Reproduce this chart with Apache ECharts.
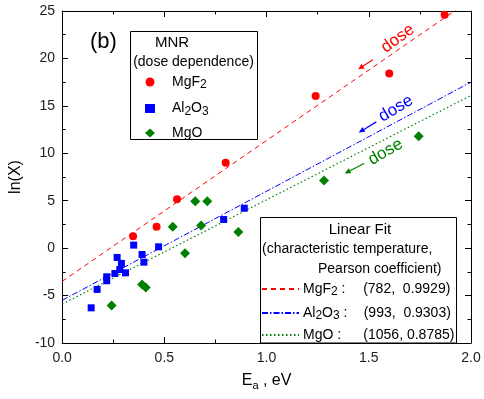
<!DOCTYPE html>
<html><head><meta charset="utf-8">
<script src="https://cdn.jsdelivr.net/npm/echarts@6/dist/echarts.min.js"></script>
<style>html,body{margin:0;padding:0;background:#fff}#c{width:484px;height:399px}</style>
</head><body><div id="c"></div>
<script>
// ---- data ----
var mgf2Points = [[0.347,1.26],[0.462,2.25],[0.562,5.16],[0.800,9.0],[1.240,16.05],[1.600,18.4],[1.871,24.6]];
var al2o3Points = [[0.142,-6.29],[0.171,-4.35],[0.218,-3.02],[0.218,-3.44],[0.258,-2.67],[0.269,-0.98],[0.290,-1.61],[0.282,-2.25],[0.310,-2.6],[0.350,0.32],[0.391,-0.67],[0.400,-1.48],[0.472,0.14],[0.790,3.02],[0.891,4.21]];
var mgoPoints = [[0.242,-6.04],[0.391,-3.83],[0.409,-4.14],[0.541,2.25],[0.601,-0.53],[0.651,4.95],[0.710,4.95],[0.680,2.39],[0.862,1.69],[1.281,7.13],[1.744,11.8]];
var mgf2Fit = [[0,-3.5],[2,26.2]];
var al2o3Fit = [[0,-5.5],[2,17.5]];
var mgoFit = [[0,-5.9],[2,16.1]];
var fitParams = ['(782,  0.9929)','(993,  0.9303)','(1056, 0.8785)'];
var xTicks = {min:0, max:2, interval:0.5};
var yTicks = {min:-10, max:25, interval:5};
// annotation anchors (data coords): [text center, arrow start, arrow end]
var doseNotes = [
  {color:'#ff0000', text:[1.642,22.1], a0:[1.520,19.87], a1:[1.448,18.85], rot:36},
  {color:'#0000ff', text:[1.633,14.72], a0:[1.537,13.31], a1:[1.451,12.19], rot:31},
  {color:'#008000', text:[1.582,10.15], a0:[1.477,8.92], a1:[1.382,7.87], rot:30}
];

var FONT = "'Liberation Sans', Arial, sans-serif";
var RED='#ff0000', BLUE='#0000ff', GREEN='#008000';
var chart = echarts.init(document.getElementById('c'), null, {renderer:'canvas'});

var rich = {
  n:{fontSize:14, fontFamily:FONT, color:'#000', lineHeight:18, verticalAlign:'middle'},
  s:{fontSize:12, fontFamily:FONT, color:'#000', lineHeight:18, verticalAlign:'bottom', padding:[6,0,0,0]},
  w1:{fontSize:14, fontFamily:FONT, color:'#000', lineHeight:18, width:25.5},
  w2:{fontSize:14, fontFamily:FONT, color:'#000', lineHeight:18, width:24},
  w3:{fontSize:14, fontFamily:FONT, color:'#000', lineHeight:18, width:30}
};
var nameRich = {
  'MgF2':'{n|MgF}{s|2}', 'Al2O3':'{n|Al}{s|2}{n|O}{s|3}', 'MgO':'{n|MgO}',
  'MgF2 fit':'{n|MgF}{s|2}{w1| :}{n|'+fitParams[0]+'}',
  'Al2O3 fit':'{n|Al}{s|2}{n|O}{s|3}{w2| :}{n|'+fitParams[1]+'}',
  'MgO fit':'{n|MgO}{w3| :}{n|'+fitParams[2]+'}'
};

function axisCommon(show){
  return {
    axisLine:{show:true, onZero:false, lineStyle:{color:'#000', width:1}},
    axisTick:{show:true, inside:true, length:6, lineStyle:{color:'#000'}},
    minorTick:{show:true, splitNumber:2, length:3.5, lineStyle:{color:'#000'}},
    splitLine:{show:false},
    axisLabel:{show:show, color:'#222', fontSize:14, fontFamily:FONT}
  };
}

var option = {
  animation:false,
  grid:{left:59, right:13, top:11, bottom:56},
  xAxis:[
    Object.assign({type:'value', min:xTicks.min, max:xTicks.max, interval:xTicks.interval, position:'bottom',
      name:'{e|E}{sa|a}{e| , eV}', nameLocation:'middle', nameGap:28,
      nameTextStyle:{rich:{e:{fontSize:16, fontFamily:FONT, color:'#000', lineHeight:20}, sa:{fontSize:11, fontFamily:FONT, color:'#000', lineHeight:20, verticalAlign:'bottom', padding:[8,0,0,0]}}}
    }, axisCommon(true), {axisLabel:{show:true, color:'#222', fontSize:14, fontFamily:FONT, margin:8, formatter:function(v){return v.toFixed(1);}}}),
    Object.assign({type:'value', min:xTicks.min, max:xTicks.max, interval:xTicks.interval, position:'top'}, axisCommon(false))
  ],
  yAxis:[
    Object.assign({type:'value', min:yTicks.min, max:yTicks.max, interval:yTicks.interval, position:'left',
      name:'ln(X)', nameLocation:'middle', nameGap:32, nameRotate:90,
      nameTextStyle:{fontSize:16, fontFamily:FONT, color:'#000'}
    }, axisCommon(true), {axisLabel:{show:true, color:'#222', fontSize:14, fontFamily:FONT, margin:7}}),
    Object.assign({type:'value', min:yTicks.min, max:yTicks.max, interval:yTicks.interval, position:'right'}, axisCommon(false))
  ],
  legend:[
    {orient:'vertical', left:145, top:73, padding:0, itemWidth:10, itemHeight:9, itemGap:8.5, z:8,
     data:[{name:'MgF2', icon:'circle'},{name:'Al2O3', icon:'rect'},{name:'MgO', icon:'diamond'}],
     formatter:function(n){return nameRich[n];},
     textStyle:{rich:rich, padding:[0,0,0,12]}},
    {orient:'vertical', left:261, top:280, padding:0, itemWidth:37, itemHeight:10, itemGap:6, z:8,
     data:['MgF2 fit','Al2O3 fit','MgO fit'],
     itemStyle:{color:'transparent', borderWidth:0, opacity:0},
     formatter:function(n){return nameRich[n];},
     textStyle:{rich:rich, padding:[0,0,0,-1]}}
  ],
  series:[
    {name:'MgF2 fit', type:'line', data:mgf2Fit, symbol:'none', silent:true, z:1,
     lineStyle:{color:RED, width:1, type:[5,4]}, itemStyle:{color:RED}},
    {name:'Al2O3 fit', type:'line', data:al2o3Fit, symbol:'none', silent:true, z:1,
     lineStyle:{color:BLUE, width:1, type:[6,2,1.5,2]}, itemStyle:{color:BLUE}},
    {name:'MgO fit', type:'line', data:mgoFit, symbol:'none', silent:true, z:1,
     lineStyle:{color:GREEN, width:1.2, type:[1.5,2.5]}, itemStyle:{color:GREEN}},
    {name:'MgF2', type:'scatter', data:mgf2Points, symbol:'circle', symbolSize:8, itemStyle:{color:RED, opacity:1}, z:3},
    {name:'Al2O3', type:'scatter', data:al2o3Points, symbol:'rect', symbolSize:7, itemStyle:{color:BLUE, opacity:1}, z:3},
    {name:'MgO', type:'scatter', data:mgoPoints, symbol:'diamond', symbolSize:10, itemStyle:{color:GREEN, opacity:1}, z:3}
  ]
};
chart.setOption(option);

function buildGraphics(){
  var g = [];
  g.push({type:'rect', shape:{x:130.5, y:31.5, width:127, height:108}, style:{fill:'#fff', stroke:'#000', lineWidth:1}, z:5, silent:true});
  g.push({type:'rect', shape:{x:260.5, y:217.5, width:196, height:125.5}, style:{fill:'#fff', stroke:'#000', lineWidth:1}, z:5, silent:true});
  g.push({type:'text', x:172, y:43, style:{text:'MNR', font:'15px '+FONT, fill:'#000', align:'center', verticalAlign:'middle'}, z:6});
  g.push({type:'text', x:193.5, y:62.5, style:{text:'(dose dependence)', font:'14px '+FONT, fill:'#000', align:'center', verticalAlign:'middle'}, z:6});
  g.push({type:'text', x:360, y:229.5, style:{text:'Linear Fit', font:'15px '+FONT, fill:'#000', align:'center', verticalAlign:'middle'}, z:6});
  g.push({type:'text', x:262, y:249.5, style:{text:'(characteristic temperature,', font:'14px '+FONT, fill:'#000', align:'left', verticalAlign:'middle'}, z:6});
  g.push({type:'text', x:318, y:269, style:{text:'Pearson coefficient)', font:'14px '+FONT, fill:'#000', align:'left', verticalAlign:'middle'}, z:6});
  g.push({type:'text', x:90, y:42, style:{text:'(b)', font:'22px '+FONT, fill:'#000', align:'left', verticalAlign:'middle'}, z:6});
  doseNotes.forEach(function(d){
    var t = chart.convertToPixel({xAxisIndex:0, yAxisIndex:0}, d.text);
    var p0 = chart.convertToPixel({xAxisIndex:0, yAxisIndex:0}, d.a0);
    var p1 = chart.convertToPixel({xAxisIndex:0, yAxisIndex:0}, d.a1);
    g.push({type:'text', x:t[0], y:t[1], rotation:d.rot*Math.PI/180,
      style:{text:'dose', font:'17px '+FONT, fill:d.color, align:'center', verticalAlign:'middle'}, z:6});
    var dx=p1[0]-p0[0], dy=p1[1]-p0[1], L=Math.sqrt(dx*dx+dy*dy), ux=dx/L, uy=dy/L;
    var hl=6, hw=2.8;
    var bx=p1[0]-ux*hl, by=p1[1]-uy*hl;
    g.push({type:'line', shape:{x1:p0[0], y1:p0[1], x2:bx, y2:by}, style:{stroke:d.color, lineWidth:1.2}, z:6});
    g.push({type:'polygon', shape:{points:[[p1[0],p1[1]],[bx-uy*hw,by+ux*hw],[bx+uy*hw,by-ux*hw]]}, style:{fill:d.color}, z:6});
  });
  return g;
}
chart.setOption({graphic:buildGraphics()});
</script></body></html>
